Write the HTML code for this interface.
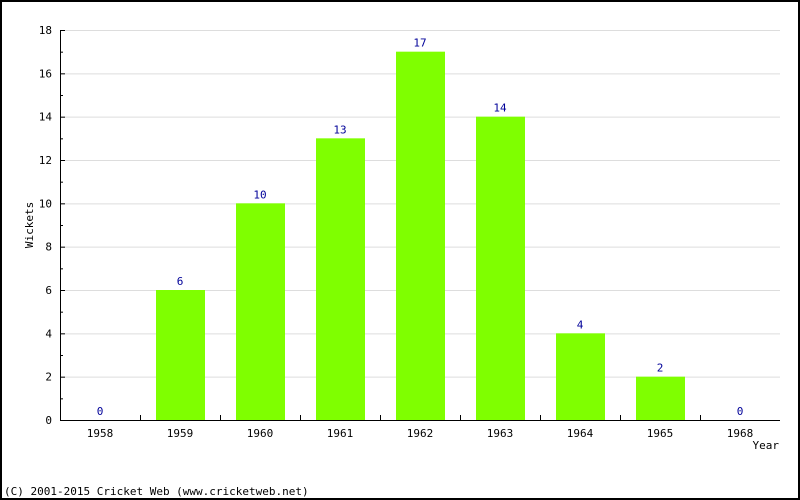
<!DOCTYPE html>
<html><head><meta charset="utf-8"><style>
body{margin:0;background:#fff}
svg{display:block}
text{font-family:"DejaVu Sans Mono","Liberation Mono",monospace;font-size:11px}
</style></head><body>
<svg id="chart" width="800" height="500" xmlns="http://www.w3.org/2000/svg">
<rect x="1" y="1" width="798" height="498" fill="#fff" stroke="#000" stroke-width="2"/>
<g id="grid"></g><g id="bars"></g><g id="axes"></g>
<text transform="translate(33,225) rotate(-90)" text-anchor="middle" fill="#000">Wickets</text>
<text x="779" y="449" text-anchor="end" fill="#000">Year</text>
<text x="4" y="495" fill="#000">(C) 2001-2015 Cricket Web (www.cricketweb.net)</text>
</svg>
<script>
const categories=["1958","1959","1960","1961","1962","1963","1964","1965","1968"];
const wickets=[0,6,10,13,17,14,4,2,0];
const yTicks=[0,2,4,6,8,10,12,14,16,18];
const NS="http://www.w3.org/2000/svg";
const L=60,R=780,T=30,B=420,yMax=18;
const y=v=>B-(v/yMax)*(B-T);
const band=(R-L)/categories.length;
const x=i=>L+band*i;
function mk(tag,attrs,parent,txt){const e=document.createElementNS(NS,tag);for(const k in attrs)e.setAttribute(k,attrs[k]);if(txt!==undefined)e.textContent=txt;document.getElementById(parent).appendChild(e);return e;}
yTicks.forEach(v=>{
 if(v>0){const g=mk('line',{x1:L,x2:R,y1:y(v)+.5,y2:y(v)+.5,stroke:'#dddddd'},'grid');
 
 }
 const t=mk('line',{x1:L,x2:L+5,y1:y(v)+.5,y2:y(v)+.5,stroke:'#000'},'axes');
 
 
 const lb=mk('text',{x:L-8,y:y(v)+4,'text-anchor':'end',fill:'#000'},'axes',String(v));
 
 
 if(v<yMax){const m=mk('line',{x1:L,x2:L+3,y1:y(v+1)+.5,y2:y(v+1)+.5,stroke:'#000'},'axes');
 
 }
});
categories.forEach((c,i)=>{
 const v=wickets[i],cx=x(i)+band/2;
 if(v>0){const b=mk('rect',{x:cx-24,y:y(v),width:49,height:B-y(v),fill:'#7fff00'},'bars');
 
 }
 const vl=mk('text',{x:cx,y:y(v)-5,'text-anchor':'middle',fill:'#000099'},'bars',String(v));
 
 
 const xl=mk('text',{x:cx,y:437,'text-anchor':'middle',fill:'#000'},'axes',c);
 
 
 if(i>0){const t=mk('line',{x1:x(i)+.5,x2:x(i)+.5,y1:B,y2:B-5,stroke:'#000'},'axes');
 
 }
});
const ya=mk('line',{x1:L+.5,x2:L+.5,y1:T,y2:B+.5,stroke:'#000'},'axes');


const xa=mk('line',{x1:L,x2:R,y1:B+.5,y2:B+.5,stroke:'#000'},'axes');


</script>
</body></html>
